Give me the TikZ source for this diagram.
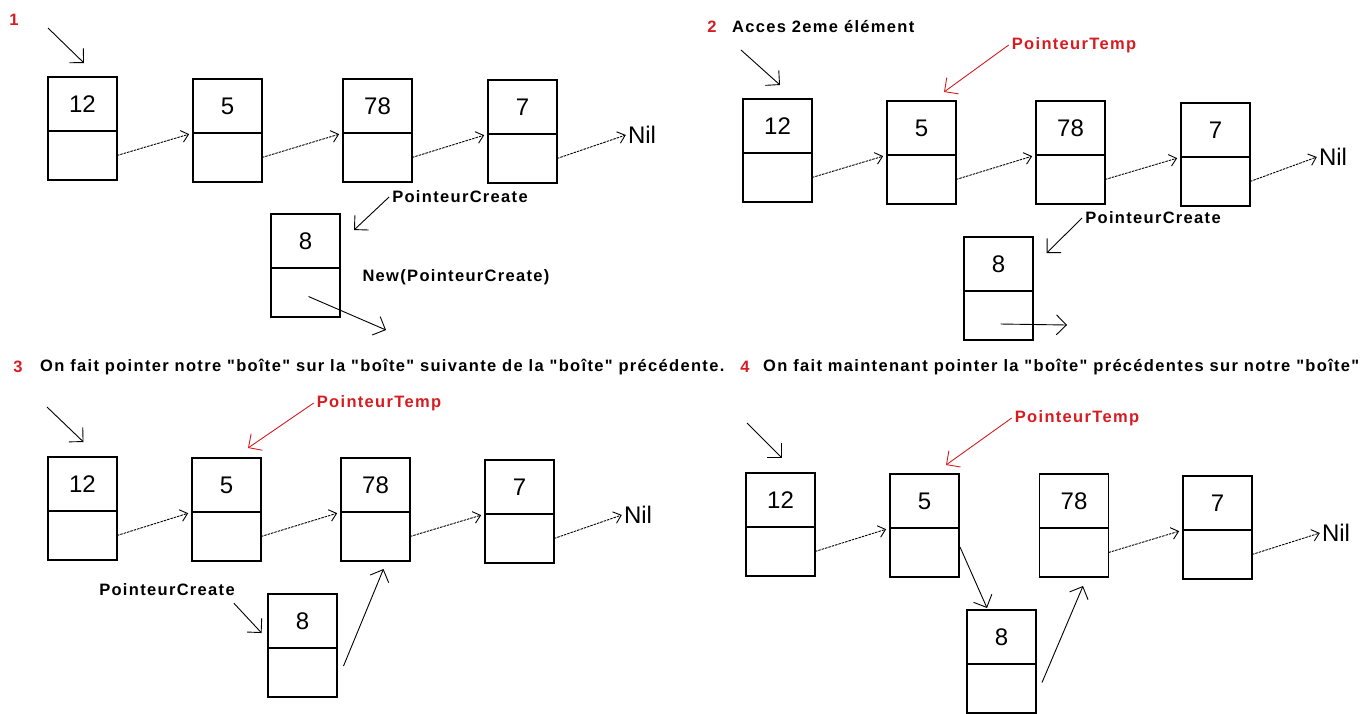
\documentclass[tikz,border=0pt]{standalone}
\usepackage{fontspec}
\setmainfont{Liberation Sans}
\newfontfamily\paintfont[LetterSpace=8]{Liberation Sans}
\usetikzlibrary{positioning,arrows.meta}
\definecolor{paintred}{RGB}{214,28,32}
\newcommand{\numfont}{\fontsize{24}{28}\selectfont}
\newcommand{\labfont}{\paintfont\bfseries\fontsize{16.5}{19}\selectfont}

\begin{document}
\begin{tikzpicture}[x=1pt,y=-1pt,
  val/.style={draw, line width=1.2pt, minimum width=69pt, minimum height=54pt, inner sep=0pt, outer sep=0pt, font=\numfont},
  ptr/.style={draw, line width=1.2pt, minimum width=69pt, minimum height=49pt, inner sep=0pt, outer sep=0pt, below=0pt of #1},
  nil/.style={font=\numfont, inner sep=2pt},
  link/.style={-{Straight Barb[length=7pt,width=12pt]}, line width=0.9pt, dash pattern=on 2.5pt off 1pt, shorten >=4pt},
  hint/.style={-{Straight Barb[length=10pt,width=20pt]}, line width=0.9pt},
  tag/.style={font=\labfont, inner sep=3pt},
  redtag/.style={tag, text=paintred},
  stepnum/.style={font=\labfont, text=paintred, inner sep=0pt}]

\useasboundingbox (0,0) rectangle (1364,713);

% 1
\node[stepnum] (s1) at (14,20) {1};
\coordinate (a0) at (48,28);
\node[val] (a12) at (82.5,104) {12};   \node[ptr=a12] (a12p) {};
\node[val] (a5)  at (227.5,106) {5};   \node[ptr=a5] (a5p) {};
\node[val] (a78) at (377.5,106) {78};  \node[ptr=a78] (a78p) {};
\node[val] (a7)  at (522.5,107) {7};   \node[ptr=a7] (a7p) {};
\node[nil] (anil) at (642,135) {Nil};
\node[val] (a8)  at (305.5,241) {8};   \node[ptr=a8] (a8p) {};
\node[tag] (acr) at (460,197) {PointeurCreate};
\node[tag] (anew) at (456,277) {New(PointeurCreate)};
\coordinate (a8n) at (386,330);
\draw[hint] (a0) -- ([xshift=1.5pt,yshift=14pt]a12.north);
\draw[link] (a12p.east) -- (a5.south west);
\draw[link] (a5p.east) -- (a78.south west);
\draw[link] (a78p.east) -- (a7.south west);
\draw[link,shorten >=0pt] (a7p.east) -- (anil.west);
\draw[hint] (acr.west) -- ([xshift=14pt,yshift=-16pt]a8.north east);
\draw[hint] ([xshift=3pt,yshift=-4pt]a8p.center) -- (a8n);

% 2
\node[stepnum] (s2) at (712,27) {2};
\node[tag, anchor=west, inner sep=0pt] (cap2) at (732,27) {Acces 2eme élément};
\coordinate (b0) at (741,50);
\node[val] (b12) at (777.5,126) {12};  \node[ptr=b12] (b12p) {};
\node[val] (b5)  at (921.5,128) {5};   \node[ptr=b5] (b5p) {};
\node[val] (b78) at (1070.5,128) {78}; \node[ptr=b78] (b78p) {};
\node[val] (b7)  at (1215.5,130) {7};  \node[ptr=b7] (b7p) {};
\node[nil] (bnil) at (1333,157) {Nil};
\node[val] (b8)  at (998.5,264) {8};   \node[ptr=b8] (b8p) {};
\node[redtag] (btmp) at (1074,45) {PointeurTemp};
\node[tag] (bcr) at (1153,218) {PointeurCreate};
\coordinate (b8n) at (1067,325);
\draw[hint] (b0) -- ([xshift=2.5pt,yshift=14pt]b12.north);
\draw[hint, paintred] (btmp.west) -- ([xshift=22.5pt,yshift=9pt]b5.north);
\draw[link] (b12p.east) -- (b5.south west);
\draw[link] (b5p.east) -- (b78.south west);
\draw[link] (b78p.east) -- (b7.south west);
\draw[link,shorten >=0pt] (b7p.east) -- (bnil.west);
\draw[hint] (bcr.west) -- ([xshift=13.6pt,yshift=-16pt]b8.north east);
\draw[hint] ([xshift=2pt,yshift=-8.5pt]b8p.center) -- (b8n);

% 3
\node[stepnum] (s3) at (18,367) {3};
\node[tag, anchor=west, inner sep=0pt] (cap3) at (40,367) {On fait pointer notre "boîte" sur la "boîte" suivante de la "boîte" précédente.};
\coordinate (c0) at (47,407);
\node[val] (c12) at (82.5,484) {12};   \node[ptr=c12] (c12p) {};
\node[val] (c5)  at (226.5,485) {5};   \node[ptr=c5] (c5p) {};
\node[val] (c78) at (375.5,485) {78};  \node[ptr=c78] (c78p) {};
\node[val] (c7)  at (519.5,487) {7};   \node[ptr=c7] (c7p) {};
\node[nil] (cnil) at (638,515) {Nil};
\node[val] (c8)  at (302.5,621) {8};   \node[ptr=c8] (c8p) {};
\node[redtag] (ctmp) at (379,403) {PointeurTemp};
\node[tag] (ccr) at (167,590) {PointeurCreate};
\draw[hint] (c0) -- ([xshift=1pt,yshift=15pt]c12.north);
\draw[hint, paintred] (ctmp.west) -- ([xshift=21.5pt,yshift=10pt]c5.north);
\draw[link] (c12p.east) -- (c5.south west);
\draw[link] (c5p.east) -- (c78.south west);
\draw[link] (c78p.east) -- (c7.south west);
\draw[link,shorten >=0pt] (c7p.east) -- (cnil.west);
\draw[hint] ([xshift=-4pt,yshift=-4pt]ccr.south east) -- ([xshift=-6.4pt,yshift=-12pt]c8.west);
\draw[hint] ([xshift=6.5pt,yshift=6.5pt]c8p.east) -- ([xshift=8pt,yshift=-8pt]c78p.south);

% 4
\node[stepnum] (s4) at (745,367) {4};
\node[tag, anchor=west, inner sep=0pt] (cap4) at (763,367) {On fait maintenant pointer la "boîte" précédentes sur notre "boîte"};
\coordinate (d0) at (747,423);
\node[val] (d12) at (780.5,500) {12};  \node[ptr=d12] (d12p) {};
\node[val] (d5)  at (924.5,501) {5};   \node[ptr=d5] (d5p) {};
\node[val] (d78) at (1074,501) {78};   \node[ptr=d78] (d78p) {};
\node[val] (d7)  at (1217.5,503) {7};  \node[ptr=d7] (d7p) {};
\node[nil] (dnil) at (1336,533) {Nil};
\node[val] (d8)  at (1001.5,637) {8};  \node[ptr=d8] (d8p) {};
\node[redtag] (dtmp) at (1077,418) {PointeurTemp};
\draw[hint] (d0) -- ([xshift=1.5pt,yshift=15pt]d12.north);
\draw[hint, paintred] (dtmp.west) -- ([xshift=21.5pt,yshift=9pt]d5.north);
\draw[link] (d12p.east) -- (d5.south west);
\draw[hint] ([xshift=1pt,yshift=5.5pt]d5p.east) -- ([xshift=-14.5pt,yshift=2pt]d8.north);
\draw[link] (d78p.east) -- (d7.south west);
\draw[link,shorten >=0pt] (d7p.east) -- (dnil.west);
\draw[hint] ([xshift=6pt,yshift=6pt]d8p.east) -- ([xshift=9pt,yshift=-9pt]d78p.south);
\end{tikzpicture}
\end{document}
